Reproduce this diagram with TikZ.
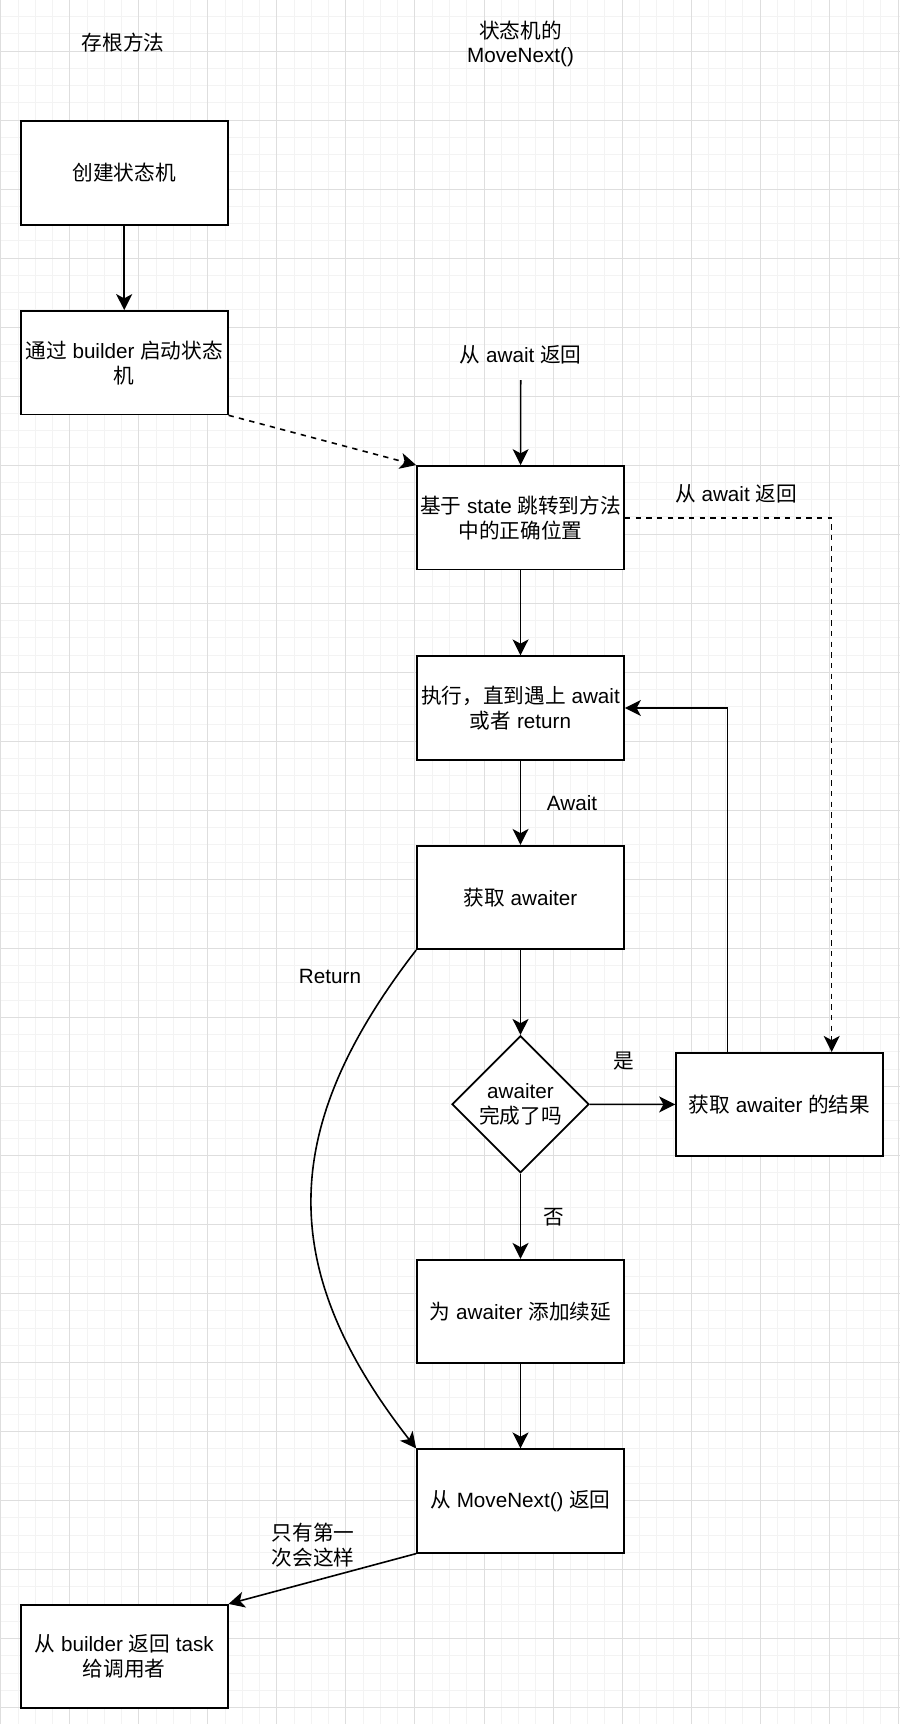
\documentclass[tikz,border=0pt]{standalone}
\usepackage{fontspec}
\setmainfont{Liberation Sans}
\newfontfamily\cjkfont{Noto Sans CJK SC}
\newcommand\zhs[1]{{\cjkfont #1}}
\usetikzlibrary{arrows.meta,shapes.geometric,calc}
\definecolor{minorgridc}{RGB}{243,243,243}
\definecolor{majorgridc}{RGB}{222,222,222}
\begin{document}
\begin{tikzpicture}[x=0.75pt,y=-0.75pt,
  every node/.style={font=\fontsize{15.5}{18.6}\selectfont, text=black},
  box/.style={draw=black, line width=1.3pt, fill=white, minimum width=155.25pt, minimum height=77.6pt, inner sep=1pt, align=center},
  decision/.style={draw=black, line width=1.3pt, fill=white, shape=diamond, aspect=1, minimum width=102.75pt, minimum height=102.75pt, inner sep=0pt, align=center},
  lbl/.style={inner sep=0pt, align=center},
  arr/.style={draw=black, line width=1.2pt, -{Stealth[length=12pt,width=12pt,inset=3.2pt]}},
  dasharr/.style={arr, dash pattern=on 4pt off 4pt},
  minorgrid/.style={draw=minorgridc, line width=0.75pt},
  majorgrid/.style={draw=majorgridc, line width=0.75pt}
]
\useasboundingbox (0,0) rectangle (900,1724);
\fill[white] (0,0) rectangle (900,1724);
% grid
\foreach \k in {0,...,52} \draw[minorgrid] ({0.8+\k*17.2575},0) -- ({0.8+\k*17.2575},1724);
\foreach \k in {0,...,98} \draw[minorgrid] (0,{16.5+\k*17.2575}) -- (900,{16.5+\k*17.2575});
\foreach \k in {0,...,13} \draw[majorgrid] ({0.8+\k*69.03},0) -- ({0.8+\k*69.03},1724);
\foreach \k in {0,...,24} \draw[majorgrid] (0,{51+\k*69.03}) -- (900,{51+\k*69.03});

% headings
\node[lbl] (h1) at (123,43) {\zhs{存根方法}};
\node[lbl] (h2) at (520.5,44) {\zhs{状态机的}\\MoveNext()};

% boxes
\node[box] (create) at (124.2,173) {\zhs{创建状态机}};
\node[box] (builder) at (124.2,362.7) {\zhs{通过} builder \zhs{启动状态}\\\zhs{机}};
\node[box] (state) at (520.5,517.7) {\zhs{基于} state \zhs{跳转到方法}\\\zhs{中的正确位置}};
\node[box] (exec) at (520.5,708) {\zhs{执行，直到遇上} await\\\zhs{或者} return};
\node[box] (get) at (520.5,897.5) {\zhs{获取} awaiter};
\node[decision] (done) at (520.5,1104.3) {awaiter\\\zhs{完成了吗}};
\node[box] (result) at (779.5,1104.5) {\zhs{获取} awaiter \zhs{的结果}};
\node[box] (cont) at (520.5,1311.5) {\zhs{为} awaiter \zhs{添加续延}};
\node[box] (movenext) at (520.5,1501) {\zhs{从} MoveNext() \zhs{返回}};
\node[box] (final) at (124.2,1656.5) {\zhs{从} builder \zhs{返回} task\\\zhs{给调用者}};

% labels
\node[lbl] (fromawait) at (520.7,355) {\zhs{从} await \zhs{返回}};
\coordinate (fromawaitend) at (520.7,380);
\node[lbl] (fromawait2) at (736,494) {\zhs{从} await \zhs{返回}};
\node[lbl] (lawait) at (572,803) {Await};
\node[lbl] (lreturn) at (330,976) {Return};
\node[lbl] (lyes) at (624,1061) {\zhs{是}};
\node[lbl] (lno) at (554,1217) {\zhs{否}};
\node[lbl] (lfirst) at (313,1545) {\zhs{只有第一}\\\zhs{次会这样}};

% connectors
\draw[arr] (create) -- (builder);
\draw[dasharr] (builder.south east) -- (state.north west);
\draw[arr] (fromawaitend) -- (state);
\draw[dasharr] (state.east) -| ($(result.north west)!0.75!(result.north east)$);
\draw[arr] (state) -- (exec);
\draw[arr] (exec) -- (get);
\draw[arr] (get) -- (done);
\draw[arr] (done) -- (result);
\draw[arr] ($(result.north west)!0.25!(result.north east)$) |- (exec.east);
\draw[arr] (done) -- (cont);
\draw[arr] (get.south west) .. controls (277,1130) and (277,1270) .. (movenext.north west);
\draw[arr] (cont) -- (movenext);
\draw[arr] (movenext.south west) -- (final.north east);
\end{tikzpicture}
\end{document}
